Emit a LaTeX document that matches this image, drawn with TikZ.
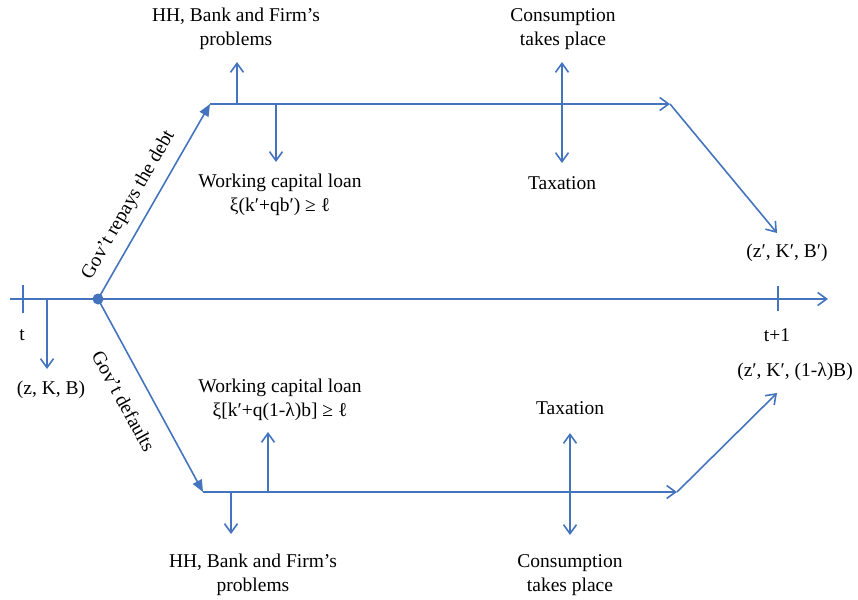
\documentclass[tikz,border=0pt]{standalone}
\usepackage{fontspec}
\setmainfont{Liberation Serif}
\usetikzlibrary{arrows.meta}
\definecolor{lineblue}{RGB}{68,116,190}
\begin{document}
\begin{tikzpicture}[x=1pt,y=1pt,
  ln/.style={draw=lineblue,line width=1.6pt},
  op/.style={ln,-{Straight Barb[length=9pt,width=13pt]}},
  dbl/.style={ln,{Straight Barb[length=9pt,width=13pt]}-{Straight Barb[length=9pt,width=13pt]}},
  fl/.style={ln,-{Triangle[length=12pt,width=10pt]}},
  lbl/.style={font=\fontsize{19.5}{24.5}\selectfont,align=center,inner sep=0pt},
]
\useasboundingbox (0,0) rectangle (858,-599);

% main time axis
\coordinate (A0) at (10,-299);
\coordinate (A1) at (828,-299);
\coordinate (dot) at (98,-299);
\draw[op] (A0) -- (A1);
\coordinate (tk0a) at (23,-285); \coordinate (tk0b) at (23,-313);
\coordinate (tk1a) at (778,-286); \coordinate (tk1b) at (778,-311);
\draw[ln] (tk0a) -- (tk0b);
\draw[ln] (tk1a) -- (tk1b);
\node[lbl] (t) at (22,-335) {t};
\node[lbl] (t1) at (777,-335) {t+1};
\coordinate (s0) at (47,-299);
\coordinate (s1) at (47,-369);
\draw[op] (s0) -- (s1);
\node[lbl] (zKB) at (51,-390) {(z, K, B)};
\fill[lineblue] (dot) circle (5.5);

% upper branch
\coordinate (T0) at (210,-104);
\coordinate (T1) at (670,-104);
\coordinate (TE) at (777,-233);
\draw[fl] (dot) -- (T0);
\path (dot) -- (T0) node[pos=0.43,sloped,above=11pt,lbl] (rep) {Gov’t repays the debt};
\draw[op] (T0) -- (T1);
\draw[op] (T1) -- (TE);
\node[lbl] (zKBp) at (787,-253) {(z′, K′, B′)};

\coordinate (u1a) at (237,-104); \coordinate (u1b) at (237,-62);
\draw[op] (u1a) -- (u1b);
\node[lbl] (hh1) at (236,-29) {HH, Bank and Firm’s\\problems};
\coordinate (u2a) at (276,-104); \coordinate (u2b) at (276,-162);
\draw[op] (u2a) -- (u2b);
\node[lbl] (wc1) at (280,-195) {Working capital loan\\ξ(k′+qb′) ≥ ℓ};
\coordinate (u3a) at (562,-62); \coordinate (u3b) at (562,-163);
\draw[dbl] (u3a) -- (u3b);
\node[lbl] (cons1) at (563,-29) {Consumption\\takes place};
\node[lbl] (tax1) at (562,-183) {Taxation};

% lower branch
\coordinate (B0) at (203,-492);
\coordinate (B1) at (677,-492);
\coordinate (BE) at (777,-393);
\draw[fl] (dot) -- (B0);
\path (dot) -- (B0) node[pos=0.464,sloped,below=19pt,lbl] (def) {Gov’t defaults};
\draw[op] (B0) -- (B1);
\draw[op] (B1) -- (BE);
\node[lbl] (zKBl) at (795,-372) {(z′, K′, (1-λ)B)};

\coordinate (d1a) at (231,-492); \coordinate (d1b) at (231,-534);
\draw[op] (d1a) -- (d1b);
\node[lbl] (hh2) at (253,-575) {HH, Bank and Firm’s\\problems};
\coordinate (d2a) at (268,-492); \coordinate (d2b) at (268,-432);
\draw[op] (d2a) -- (d2b);
\node[lbl] (wc2) at (280,-400) {Working capital loan\\ξ[k′+q(1-λ)b] ≥ ℓ};
\coordinate (d3a) at (570,-433); \coordinate (d3b) at (570,-535);
\draw[dbl] (d3a) -- (d3b);
\node[lbl] (tax2) at (570,-408) {Taxation};
\node[lbl] (cons2) at (570,-575) {Consumption\\takes place};
\end{tikzpicture}
\end{document}
